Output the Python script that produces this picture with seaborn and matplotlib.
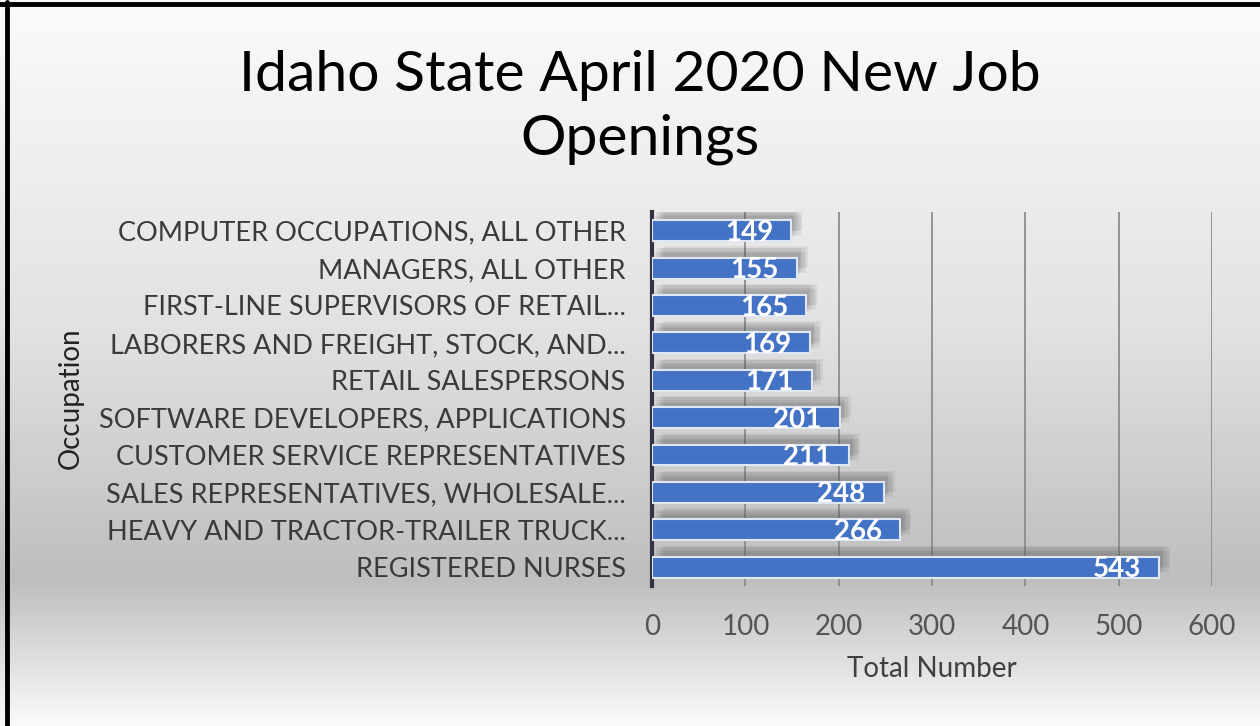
import numpy as np
import matplotlib
matplotlib.use("Agg")
import matplotlib.pyplot as plt
import matplotlib.patheffects as pe
from matplotlib.colors import LinearSegmentedColormap
import seaborn as sns

# Data
occupations = [
    "COMPUTER OCCUPATIONS, ALL OTHER",
    "MANAGERS, ALL OTHER",
    "FIRST-LINE SUPERVISORS OF RETAIL...",
    "LABORERS AND FREIGHT, STOCK, AND...",
    "RETAIL SALESPERSONS",
    "SOFTWARE DEVELOPERS, APPLICATIONS",
    "CUSTOMER SERVICE REPRESENTATIVES",
    "SALES REPRESENTATIVES, WHOLESALE...",
    "HEAVY AND TRACTOR-TRAILER TRUCK...",
    "REGISTERED NURSES",
]
openings = [149, 155, 165, 169, 171, 201, 211, 248, 266, 543]
x_ticks = [0, 100, 200, 300, 400, 500, 600]

sns.set_theme(style="white")
plt.rcParams["font.family"] = ["Lato", "DejaVu Sans"]

fig = plt.figure(figsize=(12.6, 7.26), dpi=100)

# Gradient background over the whole figure
bg = fig.add_axes([0, 0, 1, 1], zorder=-10)
cmap = LinearSegmentedColormap.from_list(
    "bg", [(0.0, "#fbfbfb"), (0.45, "#e2e2e2"), (0.8, "#bebebe"), (1.0, "#fafafa")])
grad = np.linspace(0, 1, 256).reshape(-1, 1)
bg.imshow(grad, aspect="auto", cmap=cmap, extent=[0, 1, 0, 1], origin="upper")
bg.set_xlim(0, 1)
bg.set_ylim(0, 1)
bg.axis("off")
# frame lines (left and top)
bg.plot([0.0055, 0.0055], [0, 0.997], color="black", lw=3.5, transform=bg.transAxes)
bg.plot([0.0, 1.0], [0.995, 0.995], color="black", lw=3.5, transform=bg.transAxes)

ax = fig.add_axes([0.5175, 0.193, 0.4445, 0.515])
ax.patch.set_alpha(0)

sns.barplot(x=openings, y=occupations, orient="h", color="#4472C4",
            width=0.56, edgecolor="#dfe6f4", linewidth=1.5, saturation=1, ax=ax)

# soft drop shadow (several faint layers to fake a blur)
shadow = []
for dx, dy in [(2, 3), (4, 5), (6, 7), (8, 8), (3, 7), (7, 4)]:
    shadow.append(pe.SimplePatchShadow(offset=(dx, dy), shadow_rgbFace="#555555", alpha=0.09))
for bar in ax.patches:
    bar.set_path_effects(shadow + [pe.Normal()])
    bar.set_zorder(3)

for i, v in enumerate(openings):
    ax.annotate(str(v), xy=(v, i), xytext=(-13, -1.5), textcoords="offset points",
                ha="right", va="center", color="white", fontsize=20,
                fontweight="bold", zorder=5)

ax.set_xlim(0, 600)
ax.set_xticks(x_ticks)
ax.set_xticklabels([str(t) for t in x_ticks], fontsize=20, color="#555555")
ax.tick_params(axis="x", length=0, pad=20)
ax.tick_params(axis="y", length=0, pad=19, labelsize=19.5, labelcolor="#3a3a3a")
ax.grid(axis="x", color="#8c8c8c", lw=1.3, zorder=0)
ax.set_axisbelow(True)
for s in ["top", "right", "bottom"]:
    ax.spines[s].set_visible(False)
ax.spines["left"].set_color("#333344")
ax.spines["left"].set_linewidth(3)

ax.set_xlabel("Total Number", fontsize=20, color="#404040", labelpad=12)
fig.text(0.056, 0.452, "Occupation", rotation=90, ha="center", va="center",
         fontsize=20, color="#222222")

fig.text(0.508, 0.852, "Idaho State April 2020 New Job\nOpenings", ha="center",
         va="center", fontsize=41, color="black", linespacing=1.3)

fig.savefig("out.png", dpi=100)
